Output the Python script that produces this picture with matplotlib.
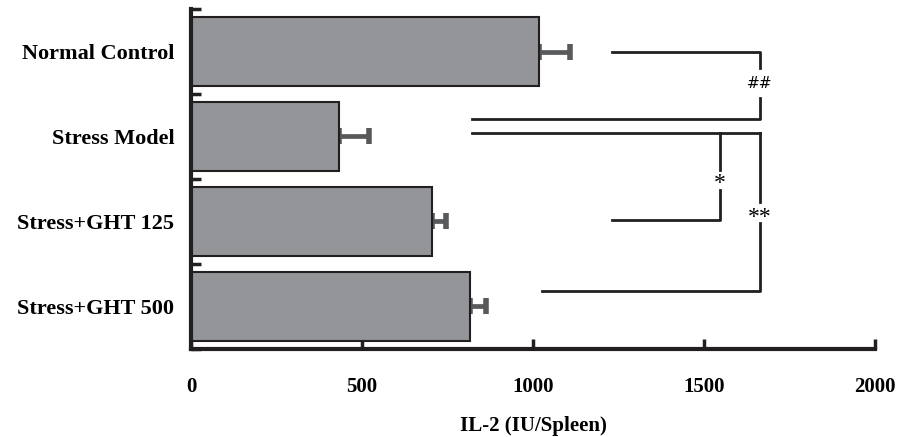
import matplotlib.pyplot as plt
import numpy as np

groups = ['Normal Control', 'Stress Model', 'Stress+GHT 125', 'Stress+GHT 500']
il2 = [1017, 433, 705, 816]
il2_err = [90, 87, 41, 47]

x_ticks = [0, 500, 1000, 1500, 2000]

plt.rcParams['font.family'] = 'Liberation Serif'

fig = plt.figure(figsize=(8.98, 4.37), dpi=100)
ax = fig.add_axes([0.2127, 0.2014, 0.7617, 0.778])

ypos = np.arange(len(groups))
ax.barh(ypos, il2, height=0.82, color='#939598', edgecolor='#231f20', linewidth=1.5, zorder=2)
ax.errorbar(il2, ypos, xerr=[np.zeros(len(il2)), il2_err], fmt='none', ecolor='#58595b',
            elinewidth=3.4, capsize=5.5, capthick=4, zorder=1)

ax.set_ylim(3.5, -0.5)
ax.set_xlim(0, 2000)

ax.set_yticks(ypos)
ax.set_yticklabels(groups, fontsize=16, fontweight='bold')
ax.tick_params(axis='y', which='major', length=0, pad=12)
ax.set_yticks(np.arange(-0.5, 4, 1), minor=True)
ax.tick_params(axis='y', which='minor', direction='in', length=7, width=2.5, color='#231f20')

ax.set_xticks(x_ticks)
ax.set_xticklabels([str(t) for t in x_ticks], fontsize=15, fontweight='bold')
ax.tick_params(axis='x', direction='in', length=7, width=2.5, pad=20, color='#231f20')
ax.set_xlabel('IL-2 (IU/Spleen)', fontsize=15, fontweight='bold', labelpad=14)

for s in ['top', 'right']:
    ax.spines[s].set_visible(False)
for s in ['left', 'bottom']:
    ax.spines[s].set_linewidth(3)
    ax.spines[s].set_color('#231f20')

# significance brackets
lc = '#231f20'
lw = 2
# ## : Normal Control vs Stress Model
ax.plot([1231, 1664, 1664], [0.0, 0.0, 0.2], color=lc, lw=lw, clip_on=False)
ax.plot([1664, 1664, 822], [0.55, 0.79, 0.79], color=lc, lw=lw, clip_on=False)
ax.text(1664, 0.38, '##', ha='center', va='center', fontsize=11, family='DejaVu Sans')
# * : Stress Model vs GHT 125
ax.plot([822, 1664], [0.96, 0.96], color=lc, lw=lw, clip_on=False)
ax.plot([1547, 1547], [0.96, 1.39], color=lc, lw=lw)
ax.plot([1547, 1547, 1231], [1.63, 1.98, 1.98], color=lc, lw=lw)
ax.text(1547, 1.55, '*', ha='center', va='center', fontsize=17)
# ** : Stress Model vs GHT 500
ax.plot([1664, 1664], [0.96, 1.77], color=lc, lw=lw)
ax.plot([1664, 1664, 1026], [2.02, 2.82, 2.82], color=lc, lw=lw)
ax.text(1664, 1.95, '**', ha='center', va='center', fontsize=17)

fig.savefig('out.png', dpi=100)
